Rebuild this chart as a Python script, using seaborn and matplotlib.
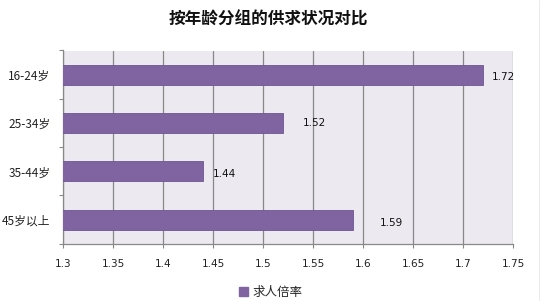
import matplotlib
matplotlib.use("Agg")
import matplotlib.pyplot as plt
import seaborn as sns
import pandas as pd
from matplotlib.patches import Patch
from matplotlib.lines import Line2D

categories = ["16-24岁", "25-34岁", "35-44岁", "45岁以上"]
values = [1.72, 1.52, 1.44, 1.59]
series_name = "求人倍率"
title = "按年龄分组的供求状况对比"
xticks = [1.3, 1.35, 1.4, 1.45, 1.5, 1.55, 1.6, 1.65, 1.7, 1.75]
xtick_labels = ["1.3", "1.35", "1.4", "1.45", "1.5", "1.55", "1.6", "1.65", "1.7", "1.75"]

sns.set_theme(style="white")
plt.rcParams['font.family'] = ['Noto Sans CJK SC', 'DejaVu Sans']

df = pd.DataFrame({"cat": categories, "val": values})

fig = plt.figure(figsize=(5.4, 3.01), dpi=100)
ax = fig.add_axes([63/540, 1-243.8/301, 450/540, (243.8-50.5)/301])
ax.set_facecolor("#ECEAF0")

bar_color = "#8064A2"
sns.barplot(data=df, x="val", y="cat", orient="h", color=bar_color,
            width=0.41, saturation=1, edgecolor="#6E5590", linewidth=0.6, ax=ax, zorder=3)

ax.set_xlim(1.3, 1.75)
ax.set_ylim(3.5, -0.5)
ax.set_xticks(xticks)
ax.set_xticklabels(xtick_labels, fontsize=7.5, color="#222222",
                   family=['DejaVu Sans'])
ax.set_xlabel("")
ax.set_ylabel("")
ax.tick_params(axis='y', which='major', length=0, pad=9, labelsize=8.5, labelcolor="#222222")
ax.set_yticks([-0.5, 0.5, 1.5, 2.5, 3.5], minor=True)
ax.tick_params(axis='y', which='minor', length=3, width=0.8, color="#888888", left=True)
ax.tick_params(axis='x', which='major', length=3, width=0.8, color="#888888", bottom=True, pad=8)

ax.grid(axis='x', color="#888888", linewidth=0.9, zorder=1)
ax.set_axisbelow(True)
for s in ["top", "right"]:
    ax.spines[s].set_visible(False)
for s in ["left", "bottom"]:
    ax.spines[s].set_color("#888888")
    ax.spines[s].set_linewidth(0.9)

# value labels (offsets in pixels)
dx_px = [9, 20, 10, 27]
dy_px = [-2, 0, -3, -3]
for i, v in enumerate(values):
    ax.annotate(f"{v:.2f}", xy=(v, i), xytext=(dx_px[i]*0.72, dy_px[i]*0.72),
                textcoords="offset points", va="center", ha="left",
                fontsize=7.5, color="#111111", family=['DejaVu Sans'])

fig.text(268/540, 1-20/301, title, ha="center", va="center",
         fontsize=12, fontweight="bold", color="#111111")

handle = Patch(facecolor=bar_color, edgecolor=bar_color)
fig.legend([handle], [series_name], loc="center", bbox_to_anchor=(271/540, 1-292/301),
           frameon=False, fontsize=9, handlelength=0.7, handleheight=0.7,
           handletextpad=0.4, borderpad=0)

fig.add_artist(Line2D([539.5/540, 539.5/540], [0, 1], transform=fig.transFigure,
                      color="#999999", linewidth=1))

fig.savefig("out.png", dpi=100)
